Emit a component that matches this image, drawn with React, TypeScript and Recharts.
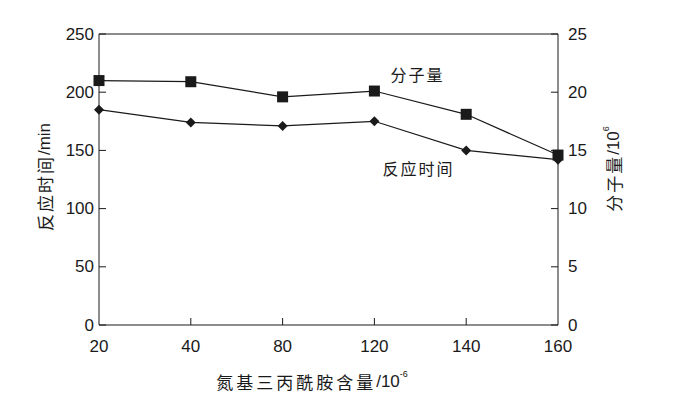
import { LineChart, Line, XAxis, YAxis, ReferenceLine, LabelList } from "recharts";

const categories = ["20", "40", "80", "120", "140", "160"];
const reactionTime = [185, 174, 171, 175, 150, 142];
const molecularWeight = [21.0, 20.9, 19.6, 20.1, 18.1, 14.6];
const leftTicks = [0, 50, 100, 150, 200, 250];
const rightTicks = [0, 5, 10, 15, 20, 25];

const data = categories.map((c, i) => ({ c, time: reactionTime[i], mw: molecularWeight[i] }));

const numFont = "'Liberation Sans', Arial, sans-serif";
const cjkFont = "'Noto Sans CJK SC', sans-serif";
const ink = "#1a1a1a";

const LeftTick = (p: any) => (
  <g>
    <line x1={p.x + 5} x2={p.x + 12} y1={p.y} y2={p.y} stroke={ink} strokeWidth={1} />
    <text x={p.x} y={p.y} textAnchor="end" dominantBaseline="central" fontSize={17} fontFamily={numFont} fill={ink}>
      {p.payload.value}
    </text>
  </g>
);

const RightTick = (p: any) => (
  <g>
    <line x1={p.x - 10} x2={p.x - 17} y1={p.y} y2={p.y} stroke={ink} strokeWidth={1} />
    <text x={p.x} y={p.y} textAnchor="start" dominantBaseline="central" fontSize={17} fontFamily={numFont} fill={ink}>
      {p.payload.value}
    </text>
  </g>
);

const BottomTick = (p: any) => (
  <g>
    {p.index > 0 && p.index < categories.length - 1 && (
      <line x1={p.x} x2={p.x} y1={p.y - 14} y2={p.y - 21} stroke={ink} strokeWidth={1} />
    )}
    <text x={p.x} y={p.y} dy={13} textAnchor="middle" fontSize={17} fontFamily={numFont} fill={ink}>
      {p.payload.value}
    </text>
  </g>
);

const Square = (p: any) => (
  <rect x={p.cx - 5.5} y={p.cy - 5.5} width={11} height={11} fill={ink} />
);

const Diamond = (p: any) => (
  <path d={`M${p.cx},${p.cy - 5} L${p.cx + 5},${p.cy} L${p.cx},${p.cy + 5} L${p.cx - 5},${p.cy} Z`} fill={ink} />
);

const seriesLabel = (text: string, dx: number, dy: number) => (p: any) =>
  p.index === 3 ? (
    <text
      x={p.x + dx}
      y={p.y + dy}
      textAnchor="middle"
      dominantBaseline="central"
      fontSize={16}
      letterSpacing={2}
      fontFamily={cjkFont}
      fill={ink}
    >
      {text}
    </text>
  ) : null;

export default function App() {
  return (
    <div style={{ position: "absolute", left: 0, top: 0, width: 695, height: 393, background: "#fff" }}>
      <LineChart width={695} height={393} data={data} margin={{ top: 34, right: 0, left: 0, bottom: 0 }}>
        <XAxis
          dataKey="c"
          height={68}
          tickLine={false}
          tickSize={0}
          tickMargin={14}
          axisLine={{ stroke: ink }}
          tick={<BottomTick />}
          interval={0}
          label={{
            content: () => (
              <text x={312} y={381} textAnchor="middle" dominantBaseline="central" fontSize={17} fill={ink}>
                <tspan fontFamily={cjkFont} letterSpacing={3}>氮基三丙酰胺含量</tspan>
                <tspan fontFamily={numFont}>/10</tspan>
                <tspan fontFamily={numFont} dy={-7} fontSize={9}>-6</tspan>
              </text>
            ),
          }}
        />
        <YAxis
          yAxisId="left"
          domain={[0, 250]}
          ticks={leftTicks}
          width={99}
          tickLine={false}
          tickSize={0}
          tickMargin={5}
          axisLine={{ stroke: ink }}
          tick={<LeftTick />}
          interval={0}
          label={{
            content: () => (
              <text
                x={44}
                y={177}
                transform="rotate(-90 44 177)"
                textAnchor="middle"
                dominantBaseline="central"
                fontSize={17}
                fill={ink}
              >
                <tspan fontFamily={cjkFont} letterSpacing={2}>反应时间</tspan>
                <tspan fontFamily={numFont}>/min</tspan>
              </text>
            ),
          }}
        />
        <YAxis
          yAxisId="right"
          orientation="right"
          domain={[0, 25]}
          ticks={rightTicks}
          width={137}
          tickLine={false}
          tickSize={0}
          tickMargin={10}
          axisLine={{ stroke: ink }}
          tick={<RightTick />}
          interval={0}
          label={{
            content: () => (
              <text
                x={613}
                y={169}
                transform="rotate(-90 613 169)"
                textAnchor="middle"
                dominantBaseline="central"
                fontSize={17}
                fill={ink}
              >
                <tspan fontFamily={cjkFont} letterSpacing={2}>分子量</tspan>
                <tspan fontFamily={numFont}>/10</tspan>
                <tspan fontFamily={numFont} dy={-7} fontSize={9}>6</tspan>
              </text>
            ),
          }}
        />
        <ReferenceLine yAxisId="left" y={250} stroke={ink} strokeWidth={1} />
        <Line
          yAxisId="left"
          dataKey="time"
          stroke={ink}
          strokeWidth={1.2}
          dot={<Diamond />}
          activeDot={false}
          isAnimationActive={false}
        >
          <LabelList dataKey="time" content={seriesLabel("反应时间", 44, 47)} />
        </Line>
        <Line
          yAxisId="right"
          dataKey="mw"
          stroke={ink}
          strokeWidth={1.2}
          dot={<Square />}
          activeDot={false}
          isAnimationActive={false}
        >
          <LabelList dataKey="mw" content={seriesLabel("分子量", 43, -17)} />
        </Line>
      </LineChart>
    </div>
  );
}
